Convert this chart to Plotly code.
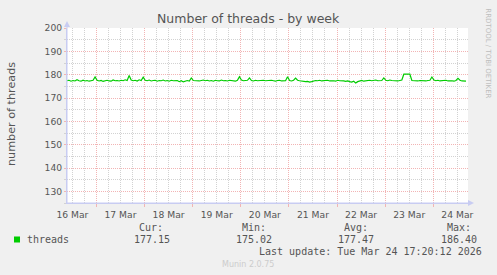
import pandas as pd
import plotly.graph_objects as go

# ---------------- data ----------------
start_time = "2026-03-16 09:20"
threads = [
    177.4,177.6,177.2,177.5,177.3,177.8,177.4,177.2,177.6,177.3,
    177.5,177.2,177.4,177.6,179.0,177.6,177.3,177.5,177.1,177.4,
    177.6,177.3,177.2,177.7,177.4,177.5,177.3,177.6,177.4,177.8,
    177.5,179.6,177.7,177.4,177.6,177.3,177.8,177.5,178.9,177.6,
    177.4,177.7,177.3,177.5,177.6,177.2,177.5,177.4,177.7,177.3,
    177.5,177.2,177.6,177.4,177.3,177.5,177.0,177.4,176.9,177.2,
    177.5,177.3,178.6,177.5,177.4,177.6,177.3,177.5,177.7,177.4,
    177.6,177.3,177.5,177.2,177.6,177.4,177.3,177.7,177.4,177.5,
    177.3,177.6,177.4,177.5,177.2,177.6,179.1,177.7,177.4,177.5,
    177.6,178.6,177.5,177.3,177.6,177.4,177.5,177.3,177.6,177.4,
    177.5,177.3,177.6,177.4,177.2,177.5,177.6,177.3,177.5,177.4,
    179.1,177.5,177.3,177.6,178.5,177.6,177.4,177.2,177.3,177.0,
    177.1,176.8,177.0,177.3,177.5,177.4,177.6,177.3,177.5,177.4,
    177.6,177.3,177.5,177.4,177.2,177.6,177.4,177.5,177.3,177.1,
    177.3,177.0,176.8,177.2,176.4,177.0,177.3,177.5,177.2,177.4,
    177.3,177.6,177.4,177.5,177.7,177.4,177.6,177.5,178.6,177.6,
    177.4,177.7,177.5,177.4,177.6,177.3,177.5,177.7,180.2,180.3,
    180.3,180.2,177.5,177.4,177.6,177.3,177.5,177.4,177.6,177.3,
    177.5,177.6,179.0,177.7,177.4,177.6,177.3,177.5,177.4,177.6,
    177.3,177.5,177.4,177.2,177.5,178.4,177.6,177.3,177.4,177.2,
]
times = pd.date_range(start_time, periods=len(threads), freq="h")
x_range = ["2026-03-16 09:20", "2026-03-24 17:20"]
y_range = [125, 200]

series_name = "threads"
stat_labels = ["Cur:", "Min:", "Avg:", "Max:"]
stat_values = ["177.15", "175.02", "177.47", "186.40"]
last_update = "Last update: Tue Mar 24 17:20:12 2026"
title_text = "Number of threads - by week"
y_title = "number of threads"
side_text = "RRDTOOL / TOBI OETIKER"
footer_text = "Munin 2.0.75"

# ---------------- layout helpers ----------------
W, H = 497, 275
L, R, T, B = 67, 468, 28, 203


def px(x):
    return (x - L) / (R - L)


def py(y):
    return (B - y) / (B - T)


TXT = "#555555"
MGRID = "#F2B4B4"
GRID = "#D2D2D2"
AXIS = "#C8CCF2"
DASH = "1px,1px"

fig = go.Figure()
fig.add_trace(go.Scatter(x=times, y=threads, mode="lines",
                         line=dict(color="#00CC00", width=1.2),
                         name=series_name, hoverinfo="skip"))

fig.update_layout(
    width=W, height=H,
    margin=dict(l=L, r=W - R, t=T, b=H - B),
    paper_bgcolor="#F0F0F0", plot_bgcolor="#FFFFFF",
    showlegend=False,
    font=dict(family="DejaVu Sans", color=TXT, size=9),
)

fig.update_xaxes(
    type="date", range=x_range,
    tick0="2026-03-16", dtick=86400000, ticklabelmode="period",
    tickformat="%d %b", tickfont=dict(size=9.2, color=TXT),
    showgrid=True, gridcolor=MGRID, griddash=DASH, gridwidth=1,
    ticks="outside", ticklen=3, tickcolor=MGRID,
    minor=dict(dtick=21600000, tick0="2026-03-16", showgrid=True,
               gridcolor=GRID, griddash=DASH, gridwidth=1, ticks=""),
    showline=True, linecolor=AXIS, linewidth=1,
    zeroline=False, fixedrange=True,
)
fig.update_yaxes(
    range=y_range, tick0=0, dtick=10, tickfont=dict(size=9.2, color=TXT),
    showgrid=True, gridcolor=MGRID, griddash=DASH, gridwidth=1,
    ticks="outside", ticklen=2, tickcolor=MGRID,
    minor=dict(dtick=5, showgrid=True, gridcolor=GRID, griddash=DASH,
               gridwidth=1, ticks="outside", ticklen=2, tickcolor=GRID),
    showline=True, linecolor=AXIS, linewidth=1,
    zeroline=False, fixedrange=True,
)

# axis arrows (paper-referenced decoration)
shapes = [
    dict(type="line", xref="paper", yref="paper", x0=0, x1=0,
         y0=py(B), y1=py(24), line=dict(color=AXIS, width=1)),
    dict(type="path", xref="paper", yref="paper",
         path=f"M {px(64)} {py(27)} L {px(70)} {py(27)} L {px(67)} {py(21)} Z",
         fillcolor=AXIS, line=dict(width=0)),
    dict(type="line", xref="paper", yref="paper", x0=0, x1=px(470),
         y0=0, y1=0, line=dict(color=AXIS, width=1)),
    dict(type="path", xref="paper", yref="paper",
         path=f"M {px(468)} {py(200)} L {px(468)} {py(206)} L {px(474)} {py(203)} Z",
         fillcolor=AXIS, line=dict(width=0)),
    dict(type="rect", xref="paper", yref="paper",
         x0=px(14), x1=px(20), y0=py(242.5), y1=py(236.5),
         fillcolor="#00CC00", line=dict(width=0)),
]
fig.update_layout(shapes=shapes)

ann = []


def add(text, x, y, xanchor="center", yanchor="middle", size=10,
        family="DejaVu Sans Mono", color=TXT, angle=0):
    ann.append(dict(text=text, x=px(x), y=py(y), xref="paper", yref="paper",
                    xanchor=xanchor, yanchor=yanchor, showarrow=False,
                    textangle=angle, borderpad=0, borderwidth=0,
                    font=dict(size=size, family=family, color=color)))


add(title_text, 248.3, 18.3, size=12.5, family="DejaVu Sans", color="#555555")
add(y_title, 11, 114, size=11.2, family="DejaVu Sans", angle=-90)
add(side_text, 487.7, 53, size=7, family="DejaVu Sans", color="#BDBDBD", angle=90)
add(series_name, 26.7, 239.3, xanchor="left")
label_right = [163.3, 265.7, 368.3, 470.7]
value_right = [170.0, 272.3, 374.3, 477.3]
for lab, val, lx, vx in zip(stat_labels, stat_values, label_right, value_right):
    add(lab, lx, 227.7, xanchor="right")
    add(val, vx, 239.3, xanchor="right")
add(last_update, 482, 251, xanchor="right")
add(footer_text, 248, 264.5, size=8, family="DejaVu Sans", color="#CCCCCC")
fig.update_layout(annotations=ann)

fig.write_html("out.html", config={"displayModeBar": False})
